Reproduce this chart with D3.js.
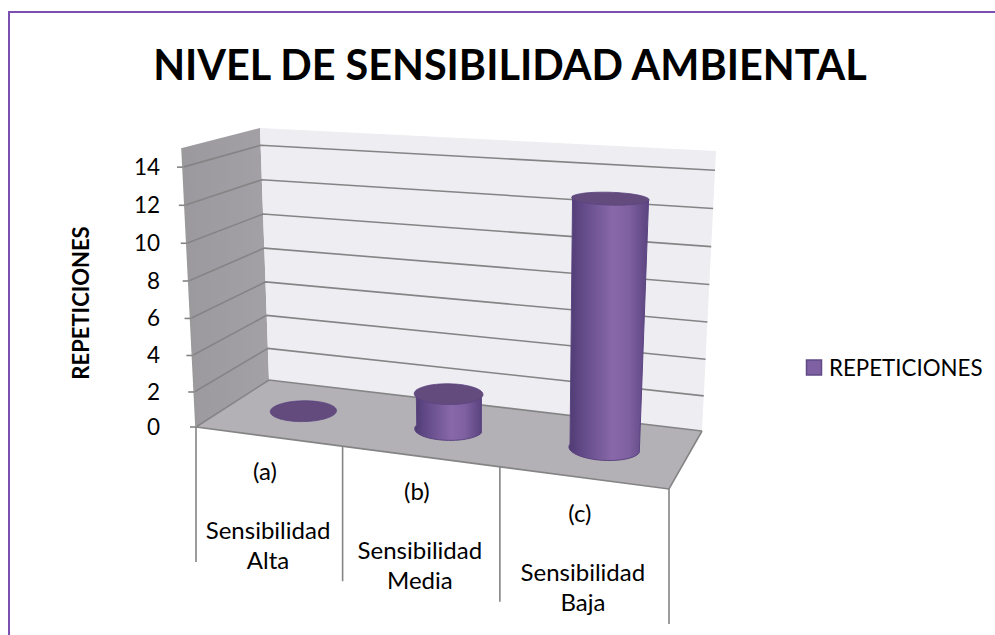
<!DOCTYPE html>
<html><head><meta charset="utf-8">
<script src="https://cdn.jsdelivr.net/npm/d3@7"></script>
<style>html,body{margin:0;padding:0;background:#fff}svg{display:block}text{font-family:Lato,"Open Sans",sans-serif;fill:#000}</style>
</head><body><svg id="c" width="995" height="635"></svg>
<script>
const categories = ["Sensibilidad Alta","Sensibilidad Media","Sensibilidad Baja"];
const categoryTags = ["(a)","(b)","(c)"];
const seriesName = "REPETICIONES";
const values = [0,2,13];
const yTicks = [0,2,4,6,8,10,12,14];
const titleText = "NIVEL DE SENSIBILIDAD AMBIENTAL";
const yAxisTitle = "REPETICIONES";

const svg = d3.select("#c");
const line = d3.line();
const poly = pts => line(pts)+"Z";

// Four vertical box edges: value -> screen position (slight perspective foreshortening)
const W = [0,15];
const edge = (x0,x1,y0,y1)=>({
  x:d3.scalePow().exponent(1.03).domain(W).range([x0,x1]),
  y:d3.scalePow().exponent(1.03).domain(W).range([y0,y1])});
const FL = edge(196,182,427,148), BL = edge(269,260,380,128),
      BR = edge(702,716,431,151), FR = edge(669,689,489,179);

// Perspective map of the unit square (u along categories, v into depth) onto a quad
function homography(p00,p10,p11,p01){
  const [x0,y0]=p00,[x1,y1]=p10,[x2,y2]=p11,[x3,y3]=p01;
  const dx1=x1-x2,dx2=x3-x2,dy1=y1-y2,dy2=y3-y2,sx=x0-x1+x2-x3,sy=y0-y1+y2-y3;
  const den=dx1*dy2-dx2*dy1, g=(sx*dy2-dx2*sy)/den, h=(dx1*sy-sx*dy1)/den;
  const a=x1-x0+g*x1,b=x3-x0+h*x3,d=y1-y0+g*y1,e=y3-y0+h*y3;
  return (u,v)=>{const q=g*u+h*v+1;return [(a*u+b*v+x0)/q,(d*u+e*v+y0)/q];};
}
const proj = (u,v,w)=>homography(
  [FL.x(w),FL.y(w)],[FR.x(w),FR.y(w)],[BR.x(w),BR.y(w)],[BL.x(w),BL.y(w)])(u,v);

const band = d3.scaleBand().domain(categories).range([0,1]);
const uMid = c => band(c)+band.bandwidth()/2;

// Frame
svg.append("rect").attr("x",9).attr("y",12).attr("width",1100).attr("height",700)
  .attr("fill","#fff").attr("stroke","#7d4fb0").attr("stroke-width",2);

// Title
svg.append("text").attr("x",510).attr("y",80).attr("text-anchor","middle")
  .attr("font-size",41.4).attr("font-weight",700).text(titleText);

// Gradients
const defs = svg.append("defs");
const wallG = defs.append("linearGradient").attr("id","wall");
wallG.append("stop").attr("offset",0).attr("stop-color","#9b999e");
wallG.append("stop").attr("offset",1).attr("stop-color","#a3a1a6");
const cylG = defs.append("linearGradient").attr("id","cyl");
[[0,"#4f3b72"],[0.12,"#5d4683"],[0.55,"#8868a9"],[0.75,"#7f60a0"],[1,"#5a4480"]].forEach(([o,c])=>
  cylG.append("stop").attr("offset",o).attr("stop-color",c));

// Walls and floor
svg.append("path").attr("fill","url(#wall)").attr("d",poly([proj(0,0,0),proj(0,1,0),proj(0,1,15),proj(0,0,15)]));
svg.append("path").attr("fill","#eeedf2").attr("d",poly([proj(0,1,0),proj(1,1,0),proj(1,1,15),proj(0,1,15)]));
svg.append("path").attr("fill","#b3b1b5").attr("d",poly([proj(0,0,0),proj(1,0,0),proj(1,1,0),proj(0,1,0)]));

// Gridlines
const grid = svg.append("g").attr("fill","none").attr("stroke","#858485").attr("stroke-width",1.6);
yTicks.forEach(t=>{
  grid.append("path").attr("d",line([proj(0,0,t),proj(0,1,t),proj(1,1,t)]));
});
// Floor outline and wall edge
grid.append("path").attr("d",line([proj(0,0,0),proj(1,0,0),proj(1,1,0)]));
grid.append("path").attr("d",line([proj(0,0,0),proj(0,0,15)])).attr("stroke","#9a9a9a");

// Y ticks and labels
const yAxis = svg.append("g");
yTicks.forEach(t=>{
  const [x,y]=proj(0,0,t);
  yAxis.append("line").attr("x1",x-6).attr("x2",x).attr("y1",y).attr("y2",y).attr("stroke","#858485").attr("stroke-width",1.6);
  yAxis.append("text").attr("x",160).attr("y",y+8).attr("text-anchor","end").attr("font-size",22.5).text(t);
});
svg.append("text").attr("transform","translate(89,303) rotate(-90)").attr("text-anchor","middle")
  .attr("font-size",22).attr("font-weight",700).text(yAxisTitle);

// Category dividers
const dividerLen = 135;
d3.range(4).map(i=>i/3).forEach(u=>{
  const [x,y]=proj(u,0,0);
  svg.append("line").attr("x1",x).attr("x2",x).attr("y1",y).attr("y2",y+dividerLen)
    .attr("stroke","#858485").attr("stroke-width",1.6);
});

// Category labels
categories.forEach((c,i)=>{
  const [x,y]=proj(uMid(c),0,0);
  const g=svg.append("g").attr("font-size",24).attr("text-anchor","middle");
  g.append("text").attr("x",x-3).attr("y",y+44).text(categoryTags[i]);
  const parts=c.split(" ");
  g.append("text").attr("x",x).attr("y",y+103).text(parts[0]);
  g.append("text").attr("x",x).attr("y",y+133).text(parts[1]);
});

// Cylinders
const Ru = 0.215, Rv = 0.2;
const angles = d3.range(0,361,6).map(a=>a*Math.PI/180);
const half = angles.map((a,k)=>k).filter(k=>k>=30);
categories.forEach((c,i)=>{
  const u=uMid(c), v=values[i];
  const ring=w=>angles.map(a=>proj(u+Ru*band.bandwidth()*Math.cos(a),0.5+Rv*Math.sin(a),w));
  const bot=ring(0), top=ring(v);
  if(v>0){
    svg.append("path").attr("fill","url(#cyl)").attr("stroke","#5b4480").attr("stroke-width",1)
      .attr("d",poly([top[30],...half.map(k=>bot[k]),top[60]]));
  }
  svg.append("path").attr("fill","#634b7e").attr("stroke","#5b4480").attr("stroke-width",0.8)
    .attr("d",poly(top));
});

// Legend
svg.append("rect").attr("x",806.5).attr("y",360).attr("width",15).attr("height",15)
  .attr("fill","#7f60a3").attr("stroke","#5f4a86").attr("stroke-width",1.5);
svg.append("text").attr("x",829).attr("y",376).attr("font-size",22.3).text(seriesName);
</script></body></html>
